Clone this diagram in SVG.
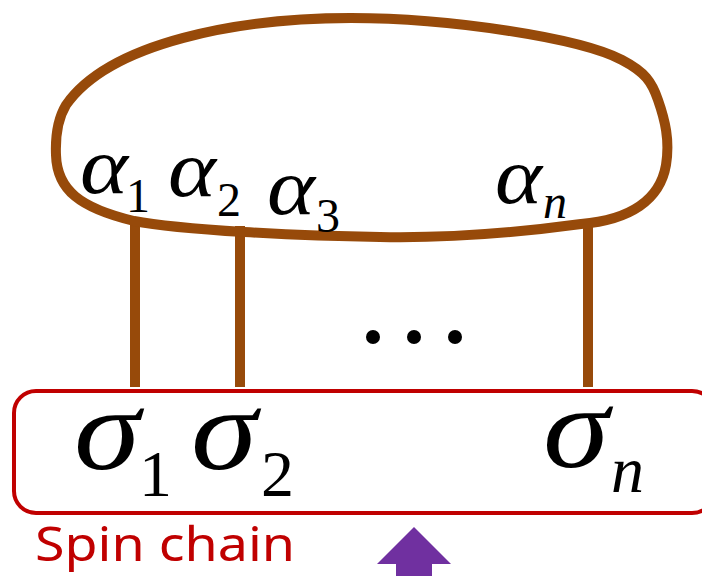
<svg xmlns="http://www.w3.org/2000/svg" width="702" height="576" viewBox="0 0 702 576">
<style>
.brown{fill:none;stroke:#974a0a;stroke-width:10}
.g{font-family:"Liberation Serif","Times New Roman",serif;fill:#000}
.gi{font-style:italic}
.big{font-size:116px}
.bsub{font-size:66px}
.sm{font-size:80px}
.ssub{font-size:48px}
</style>
<rect width="702" height="576" fill="#fff"/>
<g id="connectors">
<line class="brown" x1="135" y1="222" x2="135" y2="387"/>
<line class="brown" x1="240" y1="226" x2="240" y2="387"/>
<line class="brown" x1="588" y1="222" x2="588" y2="387"/>
</g>
<g id="blob">
<path class="brown" stroke-width="11" d="M 351,18 C 450,18 580,38 622,60 C 645,72 652,82 658,100 C 665,120 670,140 666,165 C 660,200 630,220 581,224 C 500,235 430,238 380,237 C 300,236 180,230 134,221 C 80,208 57,190 56,155 C 55,130 60,115 66,105 C 110,42 240,18 351,18 Z"/>
<text class="g gi sm" x="80" y="193" textLength="48" lengthAdjust="spacingAndGlyphs">α</text><text class="g ssub" x="126" y="212">1</text>
<text class="g gi sm" x="168" y="196" textLength="48" lengthAdjust="spacingAndGlyphs">α</text><text class="g ssub" x="217" y="216">2</text>
<text class="g gi sm" x="267" y="214" textLength="48" lengthAdjust="spacingAndGlyphs">α</text><text class="g ssub" x="316" y="232">3</text>
<text class="g gi sm" x="495" y="203" textLength="47" lengthAdjust="spacingAndGlyphs">α</text><text class="g gi ssub" x="543" y="218">n</text>
</g>
<g id="dots">
<circle cx="373" cy="337" r="7" fill="#000"/>
<circle cx="414" cy="337" r="7" fill="#000"/>
<circle cx="455" cy="337" r="7" fill="#000"/>
</g>
<g id="spin-chain">
<rect x="14" y="391" width="700" height="122" rx="22" fill="none" stroke="#c00000" stroke-width="4"/>
<text class="g gi big" x="74" y="469" textLength="66" lengthAdjust="spacingAndGlyphs">σ</text><text class="g bsub" x="139" y="496">1</text>
<text class="g gi big" x="191" y="469" textLength="66" lengthAdjust="spacingAndGlyphs">σ</text><text class="g bsub" x="261" y="496">2</text>
<text class="g gi big" x="543" y="467" textLength="66" lengthAdjust="spacingAndGlyphs">σ</text><text class="g gi bsub" x="611" y="492">n</text>
<text x="35" y="561" font-family="'Noto Sans','Liberation Sans',sans-serif" font-size="48" fill="#c00000" textLength="260" lengthAdjust="spacingAndGlyphs">Spin chain</text>
</g>
<g id="arrow">
<polygon points="414,527 451,564 432,564 432,576 396,576 396,564 377,564" fill="#7030a0"/>
</g>
</svg>
